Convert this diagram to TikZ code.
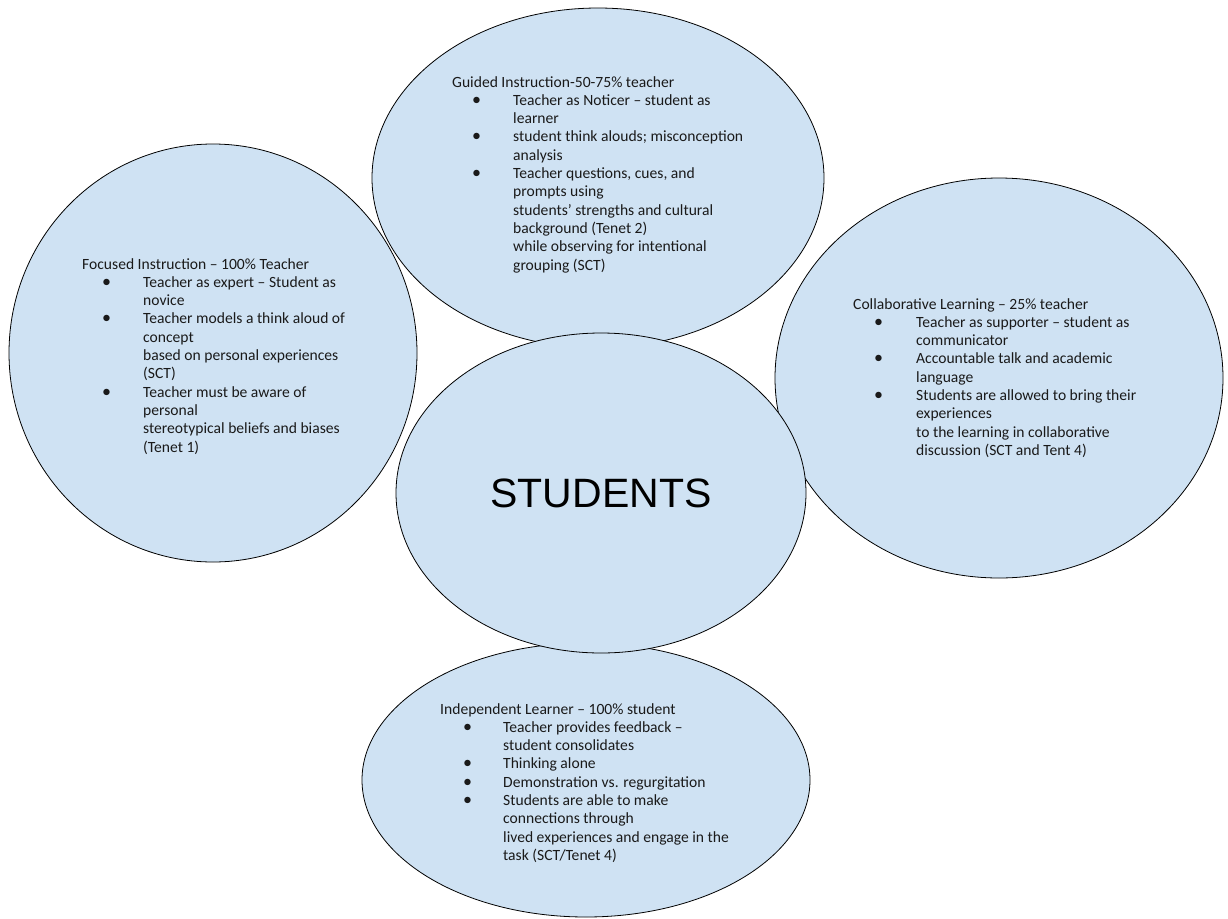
\documentclass[tikz,border=0pt]{standalone}
\usepackage{fontspec}
\setmainfont{Carlito}
\newfontfamily\arialfont{Liberation Sans}
\usepackage{tikz}
\usetikzlibrary{shapes.geometric}

\definecolor{bubblefill}{HTML}{CFE2F3}
\definecolor{inktext}{HTML}{1A1A1A}
\newcommand{\bulletrow}[1]{{\fontsize{18}{18.3}\selectfont\textbullet} & #1\\}
\newcommand{\wraprow}[1]{& #1\\}

\begin{document}
\begin{tikzpicture}[x=1pt, y=-1pt,
  bubble/.style={ellipse, draw, line width=0.8pt, fill=bubblefill, inner sep=0pt},
  listtext/.style={anchor=base west, inner sep=0pt, text=inktext, font=\fontsize{15.6}{18.3}\selectfont}]
\useasboundingbox (0,0) rectangle (1228,918);

\node (focused) [bubble, minimum width=408, minimum height=418] at (213,353) {};
\node (guided) [bubble, minimum width=452, minimum height=340] at (598,178) {};
\node (collab) [bubble, minimum width=448, minimum height=400] at (999,378) {};
\node (indep) [bubble, minimum width=448, minimum height=274] at (586,780) {};
\node (students) [bubble, minimum width=410, minimum height=320] at (601,493) {};

\node (studentslabel) at (students.center) {\arialfont\fontsize{41}{48}\selectfont STUDENTS};

\node (focusedtext) [listtext] at (82,269) {\begin{tabular}[t]{@{\hspace{20pt}}p{41pt}@{}l@{}}
\multicolumn{2}{@{}l@{}}{Focused Instruction – 100\% Teacher}\\
\bulletrow{Teacher as expert – Student as}
\wraprow{novice}
\bulletrow{Teacher models a think aloud of}
\wraprow{concept}
\wraprow{based on personal experiences}
\wraprow{(SCT)}
\bulletrow{Teacher must be aware of}
\wraprow{personal}
\wraprow{stereotypical beliefs and biases}
\wraprow{(Tenet 1)}
\end{tabular}};

\node (guidedtext) [listtext] at (452,87) {\begin{tabular}[t]{@{\hspace{20pt}}p{41pt}@{}l@{}}
\multicolumn{2}{@{}l@{}}{Guided Instruction-50-75\% teacher}\\
\bulletrow{Teacher as Noticer – student as}
\wraprow{learner}
\bulletrow{student think alouds; misconception}
\wraprow{analysis}
\bulletrow{Teacher questions, cues, and}
\wraprow{prompts using}
\wraprow{students’ strengths and cultural}
\wraprow{background (Tenet 2)}
\wraprow{while observing for intentional}
\wraprow{grouping (SCT)}
\end{tabular}};

\node (collabtext) [listtext] at (853,309) {\begin{tabular}[t]{@{\hspace{21pt}}p{42pt}@{}l@{}}
\multicolumn{2}{@{}l@{}}{Collaborative Learning – 25\% teacher}\\
\bulletrow{Teacher as supporter – student as}
\wraprow{communicator}
\bulletrow{Accountable talk and academic}
\wraprow{language}
\bulletrow{Students are allowed to bring their}
\wraprow{experiences}
\wraprow{to the learning in collaborative}
\wraprow{discussion (SCT and Tent 4)}
\end{tabular}};

\node (indeptext) [listtext] at (440,714) {\begin{tabular}[t]{@{\hspace{23pt}}p{40pt}@{}l@{}}
\multicolumn{2}{@{}l@{}}{Independent Learner – 100\% student}\\
\bulletrow{Teacher provides feedback –}
\wraprow{student consolidates}
\bulletrow{Thinking alone}
\bulletrow{Demonstration vs. regurgitation}
\bulletrow{Students are able to make}
\wraprow{connections through}
\wraprow{lived experiences and engage in the}
\wraprow{task (SCT/Tenet 4)}
\end{tabular}};
\end{tikzpicture}
\end{document}
